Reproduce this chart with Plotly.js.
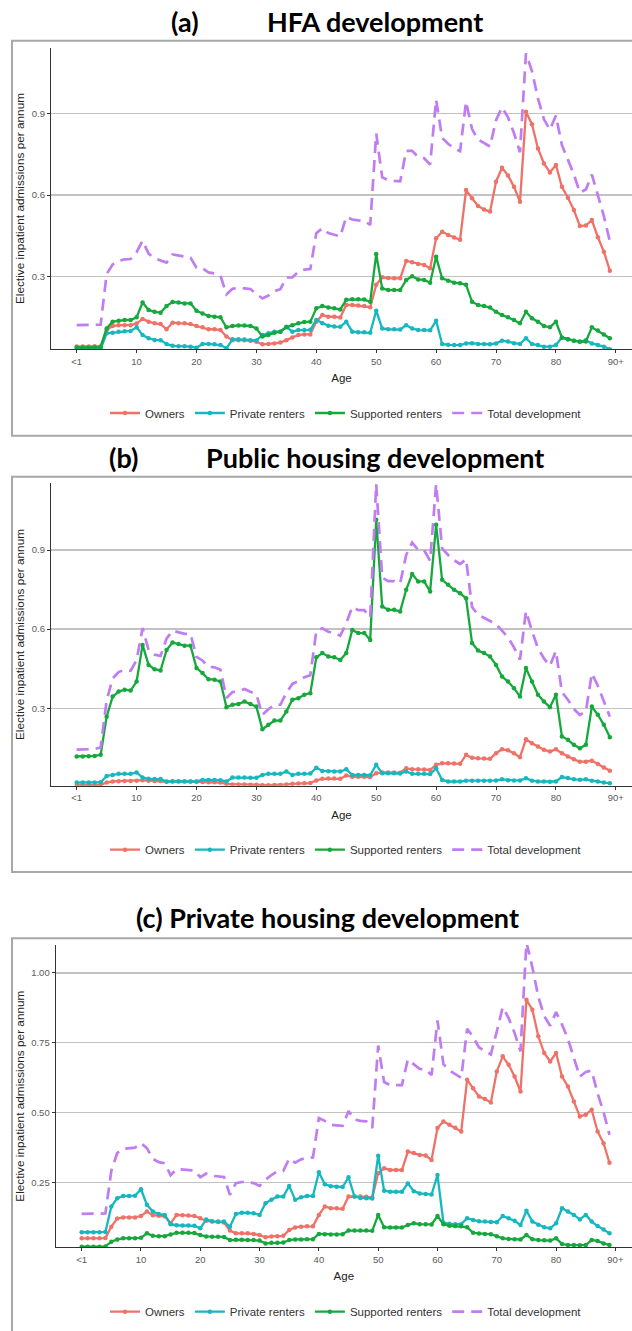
<!DOCTYPE html>
<html>
<head>
<meta charset="utf-8">
<script src="https://cdn.plot.ly/plotly-3.0.1.min.js"></script>
<style>
html,body{margin:0;padding:0;background:#fff;}
#chart{width:632px;height:1331px;}
</style>
</head>
<body>
<div id="chart"></div>
<script>
// ---------------- DATA ----------------
const ages = [0,1,2,3,4,5,6,7,8,9,10,11,12,13,14,15,16,17,18,19,20,21,22,23,24,25,26,27,28,29,
30,31,32,33,34,35,36,37,38,39,40,41,42,43,44,45,46,47,48,49,50,51,52,53,54,55,56,57,58,59,
60,61,62,63,64,65,66,67,68,69,70,71,72,73,74,75,76,77,78,79,80,81,82,83,84,85,86,87,88,89];
const tickAges = [0,10,20,30,40,50,60,70,80,90];
const tickLabels = ['<1','10','20','30','40','50','60','70','80','90+'];
const seriesNames = ['Owners','Private renters','Supported renters','Total development'];
const panelLetters = ['(a)','(b)','(c)'];
const panelNames = ['HFA development','Public housing development','Private housing development'];
const yTicksAB = [0.3,0.6,0.9];
const yTickTextAB = ['0.3','0.6','0.9'];
const yTicksC = [0.25,0.5,0.75,1.0];
const yTickTextC = ['0.25','0.50','0.75','1.00'];

// (a) HFA development
const ownersA = [0.044,0.044,0.044,0.045,0.045,
0.104,0.119,0.122,0.122,0.122,
0.128,0.145,0.135,0.129,0.126,
0.107,0.131,0.129,0.129,0.126,
0.119,0.114,0.107,0.107,0.104,
0.080,0.067,0.067,0.067,0.065,
0.061,0.052,0.053,0.055,0.058,
0.067,0.077,0.086,0.088,0.088,
0.135,0.159,0.153,0.153,0.150,
0.196,0.196,0.194,0.192,0.188,
0.270,0.298,0.295,0.294,0.294,
0.358,0.353,0.347,0.343,0.331,
0.441,0.465,0.453,0.444,0.436,
0.618,0.588,0.560,0.547,0.539,
0.649,0.700,0.672,0.630,0.575,
0.906,0.860,0.771,0.716,0.683,
0.710,0.630,0.590,0.545,0.486,
0.488,0.508,0.445,0.392,0.322];
const privateA = [0.034,0.034,0.034,0.034,0.035,
0.092,0.094,0.098,0.100,0.101,
0.114,0.086,0.074,0.068,0.067,
0.053,0.046,0.045,0.045,0.043,
0.039,0.053,0.053,0.052,0.049,
0.037,0.070,0.070,0.069,0.067,
0.066,0.086,0.092,0.098,0.098,
0.116,0.098,0.104,0.104,0.105,
0.141,0.129,0.120,0.117,0.116,
0.135,0.098,0.096,0.096,0.094,
0.175,0.110,0.107,0.107,0.106,
0.122,0.110,0.104,0.104,0.103,
0.138,0.053,0.050,0.049,0.049,
0.055,0.056,0.053,0.053,0.052,
0.055,0.065,0.062,0.056,0.053,
0.074,0.053,0.049,0.043,0.043,
0.049,0.077,0.070,0.065,0.062,
0.067,0.055,0.049,0.043,0.034];
const supportedA = [0.040,0.040,0.040,0.041,0.042,
0.110,0.135,0.138,0.141,0.141,
0.151,0.205,0.178,0.171,0.168,
0.192,0.207,0.205,0.202,0.202,
0.175,0.165,0.156,0.153,0.151,
0.114,0.119,0.121,0.121,0.119,
0.110,0.080,0.086,0.094,0.098,
0.114,0.122,0.129,0.134,0.135,
0.184,0.192,0.187,0.184,0.180,
0.215,0.217,0.217,0.216,0.208,
0.383,0.257,0.251,0.251,0.251,
0.288,0.302,0.290,0.288,0.278,
0.373,0.294,0.285,0.278,0.276,
0.270,0.208,0.196,0.192,0.187,
0.171,0.159,0.151,0.141,0.129,
0.171,0.147,0.135,0.119,0.114,
0.135,0.076,0.070,0.065,0.061,
0.062,0.114,0.102,0.088,0.074];
const totalA = [0.122,0.122,0.122,0.123,0.124,
0.310,0.345,0.358,0.364,0.365,
0.390,0.432,0.385,0.368,0.360,
0.352,0.382,0.378,0.375,0.370,
0.333,0.331,0.316,0.312,0.304,
0.235,0.256,0.258,0.257,0.255,
0.237,0.220,0.231,0.247,0.254,
0.297,0.297,0.318,0.326,0.328,
0.460,0.478,0.460,0.455,0.448,
0.520,0.510,0.507,0.505,0.490,
0.826,0.665,0.655,0.652,0.650,
0.762,0.762,0.740,0.735,0.712,
0.950,0.810,0.788,0.771,0.761,
0.943,0.842,0.804,0.792,0.778,
0.875,0.922,0.885,0.827,0.757,
1.120,1.055,0.955,0.878,0.840,
0.892,0.783,0.730,0.675,0.609,
0.620,0.675,0.596,0.523,0.430];

// (b) Public housing development
const ownersB = [0.008,0.008,0.008,0.008,0.009,
0.018,0.022,0.023,0.024,0.024,
0.025,0.027,0.025,0.024,0.024,
0.021,0.023,0.023,0.023,0.022,
0.021,0.020,0.019,0.019,0.018,
0.013,0.011,0.011,0.011,0.010,
0.010,0.008,0.008,0.009,0.009,
0.011,0.013,0.014,0.015,0.016,
0.026,0.032,0.033,0.033,0.032,
0.045,0.040,0.040,0.040,0.039,
0.053,0.056,0.056,0.056,0.055,
0.072,0.068,0.068,0.067,0.066,
0.085,0.091,0.091,0.090,0.089,
0.123,0.112,0.110,0.109,0.108,
0.129,0.144,0.140,0.129,0.114,
0.182,0.167,0.155,0.142,0.136,
0.144,0.129,0.117,0.106,0.097,
0.097,0.101,0.088,0.075,0.063];
const privateB = [0.018,0.018,0.018,0.018,0.019,
0.043,0.047,0.051,0.051,0.051,
0.056,0.037,0.032,0.031,0.031,
0.022,0.022,0.022,0.022,0.022,
0.022,0.028,0.028,0.028,0.027,
0.022,0.037,0.037,0.037,0.036,
0.036,0.047,0.051,0.051,0.051,
0.060,0.047,0.051,0.051,0.052,
0.074,0.062,0.061,0.060,0.060,
0.068,0.047,0.047,0.047,0.046,
0.085,0.053,0.053,0.053,0.052,
0.060,0.051,0.051,0.051,0.050,
0.072,0.028,0.022,0.022,0.022,
0.025,0.025,0.025,0.025,0.025,
0.026,0.030,0.027,0.026,0.026,
0.034,0.025,0.022,0.022,0.021,
0.022,0.039,0.035,0.030,0.029,
0.030,0.025,0.022,0.018,0.015];
const supportedB = [0.117,0.117,0.118,0.119,0.123,
0.268,0.344,0.363,0.370,0.367,
0.401,0.540,0.464,0.448,0.443,
0.521,0.549,0.543,0.537,0.537,
0.452,0.433,0.410,0.408,0.401,
0.304,0.313,0.316,0.325,0.316,
0.306,0.220,0.237,0.253,0.253,
0.287,0.332,0.338,0.351,0.357,
0.493,0.509,0.496,0.493,0.483,
0.509,0.597,0.585,0.585,0.559,
1.015,0.686,0.673,0.673,0.667,
0.749,0.809,0.781,0.781,0.743,
0.996,0.787,0.768,0.749,0.736,
0.717,0.547,0.519,0.509,0.496,
0.464,0.420,0.401,0.376,0.344,
0.452,0.401,0.351,0.325,0.304,
0.351,0.193,0.180,0.161,0.148,
0.161,0.306,0.275,0.237,0.190];
const totalB = [0.143,0.143,0.144,0.145,0.151,
0.329,0.413,0.437,0.445,0.442,
0.482,0.604,0.521,0.503,0.498,
0.564,0.594,0.588,0.582,0.581,
0.495,0.481,0.457,0.455,0.446,
0.339,0.361,0.364,0.373,0.362,
0.352,0.275,0.296,0.313,0.313,
0.358,0.392,0.403,0.417,0.425,
0.593,0.603,0.590,0.586,0.575,
0.622,0.684,0.672,0.672,0.644,
1.150,0.795,0.782,0.782,0.774,
0.881,0.928,0.900,0.899,0.859,
1.150,0.906,0.881,0.861,0.847,
0.865,0.684,0.654,0.643,0.629,
0.619,0.594,0.568,0.531,0.484,
0.668,0.593,0.528,0.489,0.461,
0.517,0.361,0.332,0.297,0.274,
0.288,0.432,0.385,0.330,0.268];

// (c) Private housing development
const ownersC = [0.049,0.049,0.049,0.049,0.050,
0.091,0.120,0.124,0.124,0.124,
0.129,0.145,0.132,0.130,0.128,
0.103,0.133,0.132,0.131,0.129,
0.121,0.112,0.109,0.108,0.106,
0.077,0.067,0.067,0.067,0.065,
0.061,0.053,0.056,0.057,0.058,
0.079,0.088,0.091,0.092,0.092,
0.133,0.163,0.157,0.157,0.155,
0.199,0.199,0.199,0.198,0.195,
0.282,0.300,0.294,0.294,0.294,
0.360,0.355,0.348,0.346,0.330,
0.444,0.468,0.456,0.445,0.432,
0.617,0.587,0.557,0.548,0.536,
0.647,0.701,0.671,0.629,0.575,
0.904,0.868,0.773,0.713,0.683,
0.713,0.629,0.593,0.539,0.486,
0.492,0.510,0.432,0.390,0.320];
const privateC = [0.071,0.071,0.071,0.071,0.072,
0.163,0.193,0.201,0.201,0.202,
0.225,0.169,0.145,0.136,0.133,
0.100,0.096,0.095,0.095,0.094,
0.085,0.117,0.110,0.109,0.109,
0.091,0.136,0.141,0.141,0.139,
0.133,0.175,0.187,0.199,0.199,
0.237,0.187,0.196,0.201,0.201,
0.286,0.243,0.236,0.234,0.233,
0.268,0.199,0.194,0.193,0.192,
0.345,0.220,0.216,0.216,0.216,
0.246,0.218,0.210,0.208,0.206,
0.276,0.105,0.101,0.100,0.100,
0.121,0.115,0.110,0.109,0.108,
0.107,0.129,0.121,0.112,0.097,
0.148,0.109,0.098,0.089,0.085,
0.103,0.157,0.145,0.133,0.117,
0.133,0.109,0.093,0.081,0.067];
const supportedC = [0.019,0.019,0.019,0.019,0.020,
0.037,0.045,0.049,0.049,0.049,
0.051,0.067,0.058,0.057,0.057,
0.063,0.069,0.069,0.069,0.068,
0.061,0.056,0.055,0.055,0.054,
0.043,0.044,0.044,0.043,0.043,
0.041,0.031,0.033,0.033,0.034,
0.043,0.045,0.045,0.046,0.046,
0.065,0.064,0.063,0.063,0.064,
0.077,0.077,0.077,0.077,0.076,
0.133,0.089,0.088,0.088,0.088,
0.097,0.103,0.100,0.100,0.099,
0.129,0.100,0.094,0.093,0.092,
0.089,0.069,0.066,0.065,0.064,
0.057,0.049,0.047,0.046,0.045,
0.061,0.046,0.043,0.042,0.041,
0.049,0.029,0.025,0.025,0.024,
0.025,0.043,0.040,0.031,0.025];
const totalC = [0.137,0.137,0.137,0.137,0.138,
0.291,0.355,0.370,0.372,0.374,
0.390,0.372,0.334,0.322,0.318,
0.275,0.297,0.296,0.295,0.292,
0.268,0.281,0.273,0.272,0.269,
0.205,0.247,0.251,0.251,0.247,
0.237,0.259,0.276,0.289,0.291,
0.335,0.320,0.332,0.338,0.339,
0.480,0.470,0.456,0.454,0.452,
0.505,0.475,0.470,0.468,0.445,
0.740,0.609,0.598,0.598,0.598,
0.690,0.674,0.656,0.654,0.634,
0.830,0.673,0.651,0.638,0.624,
0.800,0.771,0.733,0.722,0.708,
0.790,0.877,0.838,0.785,0.719,
1.110,1.020,0.915,0.845,0.811,
0.860,0.815,0.763,0.697,0.628,
0.645,0.650,0.568,0.502,0.420];

// ---------------- STYLE ----------------
const colors = ['#EF7268','#17B7BF','#17A83D','#C07DF2'];
const panels = [
  {series:[ownersA,privateA,supportedA,totalA], xa:'x',  ya:'y',  lg:'legend'},
  {series:[ownersB,privateB,supportedB,totalB], xa:'x2', ya:'y2', lg:'legend2'},
  {series:[ownersC,privateC,supportedC,totalC], xa:'x3', ya:'y3', lg:'legend3'}
];

const traces = [];
panels.forEach(p => {
  p.series.forEach((vals, i) => {
    const t = {
      type:'scatter', x: ages, y: vals, name: seriesNames[i],
      xaxis: p.xa, yaxis: p.ya, legend: p.lg, hoverinfo: 'skip'
    };
    if (i === 3) {
      t.mode = 'lines';
      t.line = {color: colors[i], width: 2.7, dash: '12px,7px'};
    } else {
      t.mode = 'lines+markers';
      t.line = {color: colors[i], width: 2.3};
      t.marker = {color: colors[i], size: 4.5};
    }
    traces.push(t);
  });
});

const H = 1331, W = 632;
const py = v => 1 - v / H;
const px = v => v / W;

const fontTick = {family:'Liberation Sans, Arial, sans-serif', size:9.5, color:'#5a5a5a'};
const fontAxisTitle = {family:'Liberation Sans, Arial, sans-serif', size:11.5, color:'#222'};
const fontYTitle = {family:'Liberation Sans, Arial, sans-serif', size:11.8, color:'#222'};

function xAxis(domainLeft, range, anchor){
  return {
    domain:[px(domainLeft), 1], range: range, anchor: anchor,
    tickmode:'array', tickvals: tickAges, ticktext: tickLabels,
    ticks:'outside', ticklen:3, tickwidth:1, tickcolor:'#333',
    showline:true, linecolor:'#333', linewidth:1.1,
    showgrid:false, zeroline:false, tickfont: fontTick,
    title:{text:'Age', font: fontAxisTitle, standoff: 8},
    fixedrange:true
  };
}
function yAxis(top, bottom, range, tv, tt, anchor){
  return {
    domain:[py(bottom), py(top)], range: range, anchor: anchor,
    tickmode:'array', tickvals: tv, ticktext: tt,
    ticks:'outside', ticklen:3, tickwidth:1, tickcolor:'#333',
    showline:true, linecolor:'#333', linewidth:1.1,
    showgrid:true, gridcolor:'#c2c2c2', gridwidth:1.3, zeroline:false,
    tickfont: fontTick,
    title:{text:'Elective inpatient admissions per annum', font: fontYTitle, standoff: 4},
    fixedrange:true
  };
}
function legendAt(yPix){
  return {orientation:'h', x: px(346), xanchor:'center', y: py(yPix), yanchor:'middle',
          font:{family:'Liberation Sans, Arial, sans-serif', size:11.5, color:'#333'},
          bgcolor:'rgba(0,0,0,0)', itemwidth:30, traceorder:'normal'};
}

const frameColor = '#a8a8a8';
const shapes = [
  {type:'rect', xref:'paper', yref:'paper', x0:px(12), x1:1.05, y0:py(435.7), y1:py(40.7), line:{color:frameColor, width:2}, layer:'above'},
  {type:'rect', xref:'paper', yref:'paper', x0:px(12), x1:1.05, y0:py(872), y1:py(476.7), line:{color:frameColor, width:2}, layer:'above'},
  {type:'rect', xref:'paper', yref:'paper', x0:px(12), x1:1.05, y0:-0.05, y1:py(938.3), line:{color:frameColor, width:2}, layer:'above'}
];

const titleFont = {family:'Lato, Open Sans, sans-serif', size:27, color:'#000'};
const annotations = [
  {text:'<b>'+panelLetters[0]+'</b>', x:px(185), y:py(22), xref:'paper', yref:'paper', showarrow:false, xanchor:'center', yanchor:'middle', font:titleFont},
  {text:'<b>'+panelNames[0]+'</b>', x:px(375), y:py(22), xref:'paper', yref:'paper', showarrow:false, xanchor:'center', yanchor:'middle', font:titleFont},
  {text:'<b>'+panelLetters[1]+'</b>', x:px(123), y:py(457), xref:'paper', yref:'paper', showarrow:false, xanchor:'center', yanchor:'middle', font:titleFont},
  {text:'<b>'+panelNames[1]+'</b>', x:px(375), y:py(457), xref:'paper', yref:'paper', showarrow:false, xanchor:'center', yanchor:'middle', font:titleFont},
  {text:'<b>'+panelLetters[2]+' '+panelNames[2]+'</b>', x:px(327), y:py(918), xref:'paper', yref:'paper', showarrow:false, xanchor:'center', yanchor:'middle', font:titleFont}
];

const layout = {
  width: W, height: H,
  margin:{l:0, r:0, t:0, b:0, pad:0},
  paper_bgcolor:'#ffffff', plot_bgcolor:'rgba(0,0,0,0)',
  font:{family:'Liberation Sans, Arial, sans-serif', color:'#333'},
  showlegend:true,
  xaxis:  xAxis(51, [-4.29, 92.7], 'y'),
  xaxis2: xAxis(51, [-4.29, 92.7], 'y2'),
  xaxis3: xAxis(55.7, [-4.38, 92.8], 'y3'),
  yaxis:  yAxis(47.7, 349.3, [0.0334, 1.141], yTicksAB, yTickTextAB, 'x'),
  yaxis2: yAxis(483.3, 785.7, [0.006, 1.153], yTicksAB, yTickTextAB, 'x2'),
  yaxis3: yAxis(945, 1247.3, [0.017, 1.10], yTicksC, yTickTextC, 'x3'),
  legend: legendAt(413),
  legend2: legendAt(849.7),
  legend3: legendAt(1311.7),
  shapes: shapes,
  annotations: annotations
};

Plotly.newPlot('chart', traces, layout, {displayModeBar:false, staticPlot:true});
</script>
</body>
</html>
